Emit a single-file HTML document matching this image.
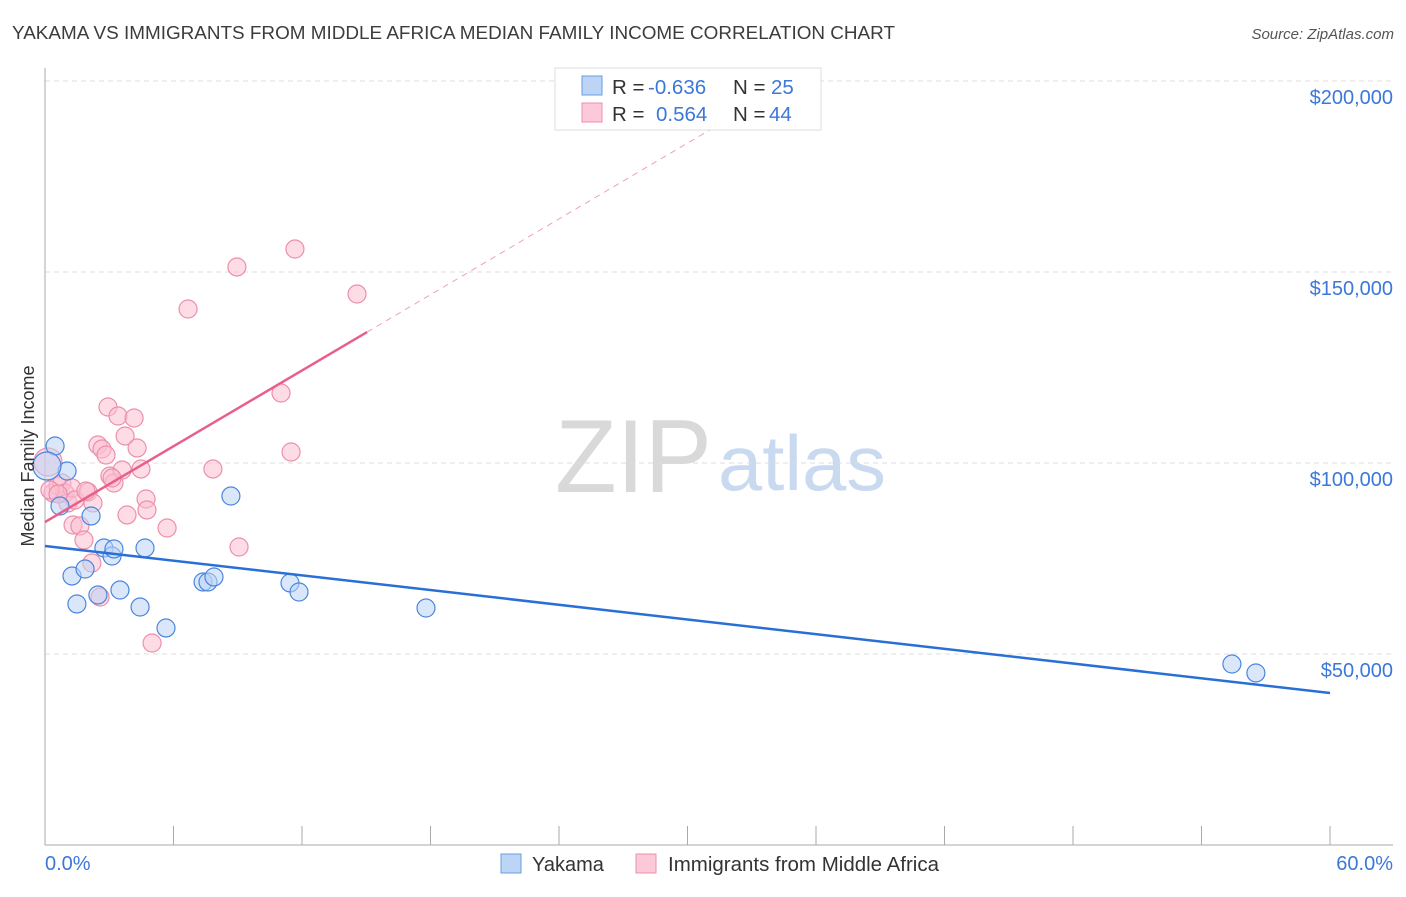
<!DOCTYPE html>
<html><head><meta charset="utf-8"><style>
body{margin:0;background:#fff;font-family:"Liberation Sans",sans-serif;}
svg text{font-family:"Liberation Sans",sans-serif;}
</style></head><body>
<svg id="chart" width="1406" height="892" viewBox="0 0 1406 892" xmlns="http://www.w3.org/2000/svg">
<text x="12" y="39" font-size="18" fill="#3c3c3c" textLength="883" lengthAdjust="spacingAndGlyphs">YAKAMA VS IMMIGRANTS FROM MIDDLE AFRICA MEDIAN FAMILY INCOME CORRELATION CHART</text>
<text x="1394" y="39" font-size="15" fill="#555" text-anchor="end" font-style="italic">Source: ZipAtlas.com</text>
<text x="555" y="492" font-size="104" fill="#d9d9d9" font-family="Liberation Serif" textLength="157" lengthAdjust="spacingAndGlyphs">ZIP</text>
<text x="718" y="490" font-size="78" fill="#c9d9ef" textLength="168" lengthAdjust="spacingAndGlyphs">atlas</text>
<g id="grid"></g>
<g id="axes"></g>
<g id="marks"></g>
<text transform="translate(34,456) rotate(-90)" font-size="18" fill="#333" text-anchor="middle">Median Family Income</text>
<text x="45" y="870" font-size="20" fill="#3b78d8">0.0%</text>
<text x="1393" y="870" font-size="20" fill="#3b78d8" text-anchor="end">60.0%</text>
<g>
<rect x="555" y="68" width="266" height="62" fill="#fff" stroke="#ddd"/>
<rect x="582" y="76" width="20" height="19" fill="#bcd4f6" stroke="#6a9be0"/>
<rect x="582" y="103" width="20" height="19" fill="#fcc9d8" stroke="#ec8fac"/>
<text x="612" y="94" font-size="20.5" fill="#333">R = <tspan x="648" fill="#3b78d8">-0.636</tspan><tspan x="733">N = </tspan><tspan x="771" fill="#3b78d8">25</tspan></text>
<text x="612" y="121" font-size="20.5" fill="#333">R = <tspan x="656" fill="#3b78d8">0.564</tspan><tspan x="733">N = </tspan><tspan x="769" fill="#3b78d8">44</tspan></text>
</g>
<g>
<rect x="501" y="854" width="20" height="19" fill="#bcd4f6" stroke="#6a9be0"/>
<text x="532" y="871" font-size="20" fill="#333">Yakama</text>
<rect x="636" y="854" width="20" height="19" fill="#fcc9d8" stroke="#ec8fac"/>
<text x="668" y="871" font-size="20" fill="#333" textLength="271" lengthAdjust="spacingAndGlyphs">Immigrants from Middle Africa</text>
</g>
</svg>
<script>
const yTicks=[50000,100000,150000,200000];
const yTickLabels=["$50,000","$100,000","$150,000","$200,000"];
const xTicks=[0,6,12,18,24,30,36,42,48,54,60];
const blueX=[0.47,1.03,0.70,2.15,0.09,2.75,3.13,3.22,4.67,1.26,1.87,1.49,2.47,3.50,4.44,5.65,8.68,7.38,7.61,7.89,11.44,11.86,17.79,55.42,56.54];
const blueY=[104450,97900,88740,86130,99210,77750,75650,77490,77750,70420,72250,63090,65450,66750,62300,56810,91360,68850,68850,70160,68590,66230,62040,47380,45030];
const pinkX=[0.14,0.37,0.61,0.79,0.93,1.07,1.26,1.40,1.31,1.63,1.82,2.01,2.24,2.19,2.57,2.47,2.66,2.85,2.94,3.03,3.22,3.41,3.60,3.74,3.83,4.16,4.30,4.48,4.72,4.76,5.00,5.70,6.68,7.84,8.96,9.06,11.02,11.49,11.67,14.57,0.23,1.91,0.61,3.13];
const pinkY=[100260,92150,93980,94760,92150,89530,93450,90310,83770,83510,79840,92410,89530,73820,64920,104710,103660,102090,114660,96600,94760,112300,98170,107070,86390,111780,103930,98430,90580,87700,52880,82980,140310,98430,151310,78010,118320,102880,156020,144240,92930,92670,91880,96070];
const blueTrendX=[0,60];
const blueTrendY=[78280,39800];
const pinkTrendX=[0,15.04];
const pinkTrendY=[84540,134270];
const pinkDashX=[15.04,33];
const pinkDashY=[134270,193660];

const NS="http://www.w3.org/2000/svg";
const sx=v=>45+v/60*1285;
const sy=v=>654-(v-50000)*191/50000;
function mk(tag,attrs,parent){const e=document.createElementNS(NS,tag);for(const k in attrs)e.setAttribute(k,attrs[k]);document.getElementById(parent).appendChild(e);return e;}

yTicks.forEach((t,i)=>{
  const l=mk('line',{x1:45,x2:1393,y1:sy(t),y2:sy(t),stroke:'#ddd','stroke-dasharray':'5,4'},'grid');
  
  
  const tx=mk('text',{x:1393,y:sy(t)+23,'font-size':20,fill:'#3b78d8','text-anchor':'end'},'grid');
  tx.textContent=yTickLabels[i];
  
  
});
let a=mk('line',{x1:45,x2:45,y1:68,y2:845,stroke:'#aaa'},'axes');


a=mk('line',{x1:45,x2:1393,y1:845,y2:845,stroke:'#aaa'},'axes');


xTicks.forEach(t=>{
  const l=mk('line',{x1:sx(t),x2:sx(t),y1:826,y2:845,stroke:'#aaa'},'axes');
  
  
});
function dots(xs,ys,fill,stroke,name){
  xs.forEach((x,i)=>{
    const r=(x<0.2)?14:9;
    const c=mk('circle',{cx:sx(x),cy:sy(ys[i]),r:r,fill:fill,'fill-opacity':0.55,stroke:stroke,'stroke-width':1.2},'marks');
    
    
  });
}
dots(pinkX,pinkY,'#fbc0d2','#ec8fac','immigrants-point');
dots(blueX,blueY,'#bcd4f6','#4a86dd','yakama-point');
let t=mk('line',{x1:sx(blueTrendX[0]),y1:sy(blueTrendY[0]),x2:sx(blueTrendX[1]),y2:sy(blueTrendY[1]),stroke:'#2a6fd6','stroke-width':2.5},'marks');


t=mk('line',{x1:sx(pinkTrendX[0]),y1:sy(pinkTrendY[0]),x2:sx(pinkTrendX[1]),y2:sy(pinkTrendY[1]),stroke:'#e8608a','stroke-width':2.5},'marks');


t=mk('line',{x1:sx(pinkDashX[0]),y1:sy(pinkDashY[0]),x2:sx(pinkDashX[1]),y2:sy(pinkDashY[1]),stroke:'#efa0b8','stroke-width':1,'stroke-dasharray':'6,5'},'marks');


</script>
</body></html>
